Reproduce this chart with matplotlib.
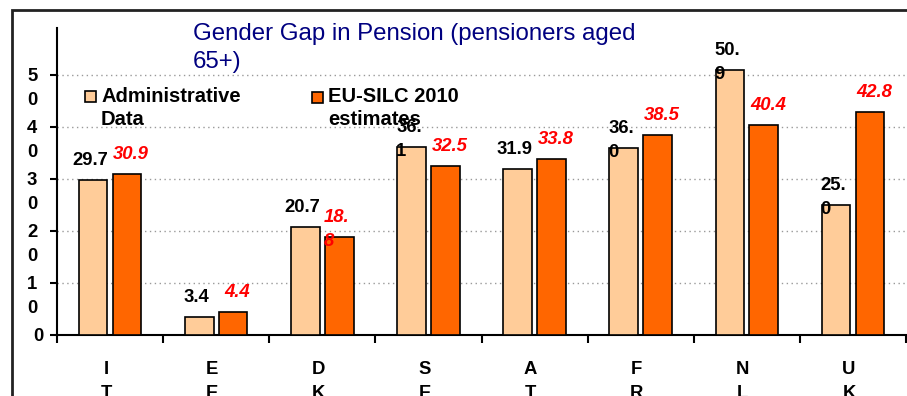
import numpy as np
import matplotlib
matplotlib.use('Agg')
import matplotlib.pyplot as plt
from matplotlib.patches import Rectangle

plt.rcParams['font.family'] = ['Liberation Sans', 'DejaVu Sans']

countries = ["IT", "EE", "DK", "SE", "AT", "FR", "NL", "UK"]
admin = [29.7, 3.4, 20.7, 36.1, 31.9, 36.0, 50.9, 25.0]
silc = [30.9, 4.4, 18.8, 32.5, 33.8, 38.5, 40.4, 42.8]
# labels that got wrapped after three characters
admin_wrap = [False, False, False, True, False, True, True, True]
silc_wrap = [False, False, True, False, False, False, False, False]
yticks = [0, 10, 20, 30, 40, 50]

W, H = 907, 396
fig = plt.figure(figsize=(W / 100, H / 100), dpi=100)
ax = fig.add_axes([57 / W, (H - 335) / H, (906 - 57) / W, (335 - 28) / H])

light = '#FFCC99'
orange = '#FF6600'
x = np.arange(len(countries))
bw = 0.27
off = 0.16

ax.bar(x - off, admin, bw, color=light, edgecolor='black', linewidth=1.2, zorder=3)
ax.bar(x + off, silc, bw, color=orange, edgecolor='black', linewidth=1.2, zorder=3)

ax.set_xlim(-0.5, len(countries) - 0.5)
ax.set_ylim(0, 59)
ax.set_axisbelow(True)
ax.yaxis.grid(True, linestyle=(0, (1, 2.5)), color='#999999', linewidth=1)

for s in ['top', 'right']:
    ax.spines[s].set_visible(False)
for s in ['left', 'bottom']:
    ax.spines[s].set_linewidth(1.5)

ax.set_yticks(yticks)
ax.set_yticklabels([''] * len(yticks))
ax.set_xticks(np.arange(-0.5, len(countries)))
ax.set_xticklabels([''] * (len(countries) + 1))
ax.tick_params(axis='y', direction='out', length=5, width=1.5)
ax.tick_params(axis='x', direction='out', length=6, width=1.5)

fs = 13.3
lab = dict(fontsize=fs, fontweight='bold', linespacing=1.55,
           textcoords='offset pixels', annotation_clip=False)

# y tick labels, digits stacked
for v in yticks:
    if v == 0:
        ax.annotate('0', xy=(0, v), xycoords=ax.get_yaxis_transform(),
                    xytext=(-14, 7), ha='right', va='top', **lab)
    else:
        ax.annotate('\n'.join(str(v)), xy=(0, v), xycoords=ax.get_yaxis_transform(),
                    xytext=(-30, 7), ha='left', va='top', **lab)

# category labels, letters stacked
for i, c in enumerate(countries):
    ax.annotate('\n'.join(c), xy=(i, 0), xycoords='data',
                xytext=(-4, -26), ha='center', va='top', **lab)


def bar_label(xc, val, wrap, color, style, dx):
    t = f"{val:.1f}"
    if wrap:
        t = t[:3] + '\n' + t[3:]
        ax.annotate(t, xy=(xc - bw / 2, val), xytext=(-1, 28), ha='left', va='top',
                    color=color, fontstyle=style, multialignment='left', **lab)
    else:
        ax.annotate(t, xy=(xc, val), xytext=(dx, 28), ha='center', va='top',
                    color=color, fontstyle=style, **lab)


for i in range(len(countries)):
    bar_label(x[i] - off, admin[i], admin_wrap[i], 'black', 'normal', -3)
    bar_label(x[i] + off, silc[i], silc_wrap[i], '#FF0000', 'italic', 4)


def fx(px):
    return px / W


def fy(py):
    return 1 - py / H


# title
fig.text(fx(193), fy(23), 'Gender Gap in Pension (pensioners aged\n65+)',
         fontsize=17.3, color='#000080', ha='left', va='top', linespacing=1.35)

# legend
sq = 11
lg = dict(fontsize=14.5, fontweight='bold', ha='left', va='top', linespacing=1.25)
fig.patches.append(Rectangle((fx(85), fy(102)), sq / W, sq / H, facecolor=light,
                             edgecolor='black', linewidth=1.2, transform=fig.transFigure))
fig.text(fx(101), fy(87), 'Administrative\nData', **lg)
fig.patches.append(Rectangle((fx(312), fy(103)), sq / W, sq / H, facecolor=orange,
                             edgecolor='black', linewidth=1.2, transform=fig.transFigure))
fig.text(fx(328), fy(87), 'EU-SILC 2010\nestimates', **lg)

# chart frame
fig.patches.append(Rectangle((fx(12), -0.1), 1.2, fy(10) + 0.1, fill=False,
                             edgecolor='#222222', linewidth=2, transform=fig.transFigure))

fig.savefig('out.png', dpi=100)
